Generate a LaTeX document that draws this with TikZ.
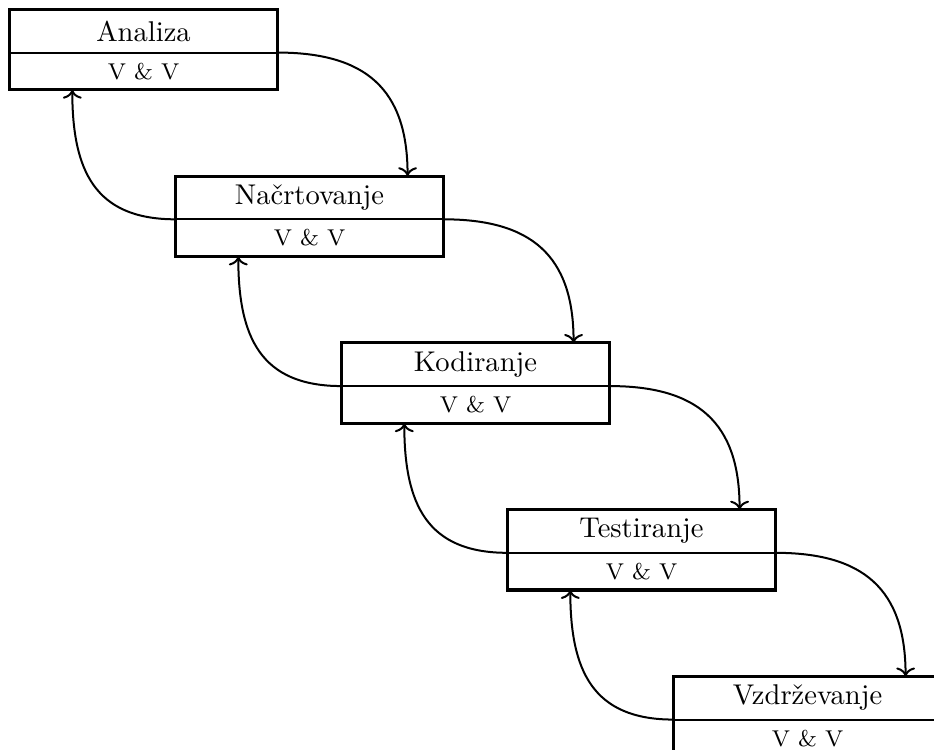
\documentclass[tikz,border=0pt]{standalone}
\usetikzlibrary{arrows.meta}
\begin{document}
\begin{tikzpicture}[x=0.35pt,y=-0.35pt,
  phase/.style={minimum width=93.45pt, minimum height=14.7pt, inner sep=0pt, font=\normalsize},
  check/.style={minimum width=93.45pt, minimum height=12.6pt, inner sep=0pt, font=\footnotesize},
  frame/.style={line width=1.1pt},
  divider/.style={line width=0.7pt},
  flow/.style={line width=0.7pt, ->},
]
\useasboundingbox (0,0) rectangle (934,750);
% the five phases, each with its verification part underneath
\foreach \name [count=\i from 0] in {Analiza,Načrtovanje,Kodiranje,Testiranje,Vzdrževanje}{
  \node[phase] (p\i) at ({143.5+166*\i},{31+166.75*\i}) {\name};
  \node[check, anchor=north] (v\i) at (p\i.south) {V \& V};
  \draw[frame] (p\i.north west) rectangle (v\i.south east);
  \draw[divider] (p\i.south west) -- (p\i.south east);
}
% forward flow and feedback between neighbouring phases
\foreach \i/\j in {0/1,1/2,2/3,3/4}{
  \draw[flow] (p\i.south east) to[out=0,in=90,looseness=1.25] ([xshift=-12.6pt]p\j.north east);
  \draw[flow] (p\j.south west) to[out=180,in=-90,looseness=1.25] ([xshift=22pt]v\i.south west);
}
\end{tikzpicture}
\end{document}
